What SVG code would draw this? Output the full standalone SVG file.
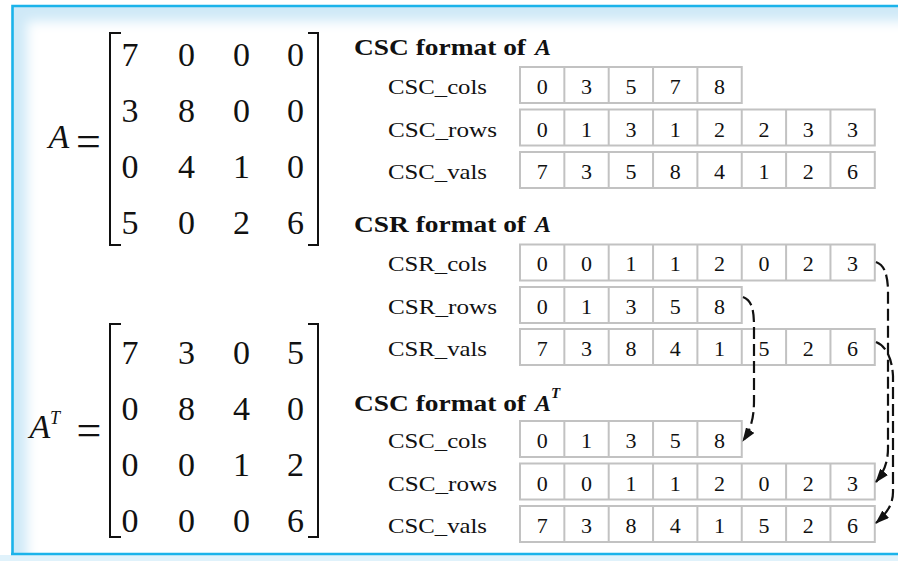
<svg xmlns="http://www.w3.org/2000/svg" width="898" height="561" viewBox="0 0 898 561">
  <defs>
    <style>
      text { font-family: "Liberation Serif", "Times New Roman", serif; fill: #111; }
      .mat { font-size: 34px; text-anchor: middle; }
      .eq { font-size: 44px; text-anchor: middle; }
      .lbl { font-size: 22px; }
      .num { font-size: 22px; text-anchor: middle; }
      .hdr { font-size: 24px; font-weight: bold; }
      .cell { fill: #fff; stroke: #c2c2c2; stroke-width: 2; }
      .div { stroke: #c2c2c2; stroke-width: 2; }
      .brk { fill: none; stroke: #111; stroke-width: 2; }
      .link { fill: none; stroke: #111; stroke-width: 2.2; stroke-dasharray: 12 5; }
    </style>
    <marker id="head" viewBox="0 0 14 10" refX="13" refY="5" markerWidth="14" markerHeight="10" markerUnits="userSpaceOnUse" orient="auto">
      <path d="M0,0 L14,5 L0,10 Z" fill="#111"/>
    </marker>
    <clipPath id="panel"><rect x="13" y="7" width="885" height="546"/></clipPath>
    <filter id="soft" x="-10%" y="-10%" width="120%" height="120%"><feGaussianBlur stdDeviation="6"/></filter>
  </defs>

  <!-- panel with soft inner glow -->
  <rect x="0" y="0" width="898" height="561" fill="#fff"/>
  <rect x="0" y="555" width="898" height="6" fill="#e0f2fb"/>
  <g clip-path="url(#panel)">
    <rect x="13" y="7" width="885" height="546" fill="#cfe9f7"/>
    <rect x="27" y="21" width="900" height="560" fill="#fff" filter="url(#soft)"/>
  </g>
  <path d="M12.5,554 V6 H898 M11,554 H898" fill="none" stroke="#1bb3ea" stroke-width="2.6"/>

  <!-- matrix A -->
  <g id="matrix-A">
    <text class="mat" x="59" y="148" font-style="italic">A</text>
    <text class="eq" x="88.5" y="156">=</text>
    <path class="brk" d="M121,33 H110 V245 H121"/>
    <path class="brk" d="M308,33 H318 V245 H308"/>
    <text class="mat" y="66"><tspan x="130">7</tspan><tspan x="186.5">0</tspan><tspan x="241.5">0</tspan><tspan x="295.5">0</tspan></text>
    <text class="mat" y="122"><tspan x="130">3</tspan><tspan x="186.5">8</tspan><tspan x="241.5">0</tspan><tspan x="295.5">0</tspan></text>
    <text class="mat" y="178"><tspan x="130">0</tspan><tspan x="186.5">4</tspan><tspan x="241.5">1</tspan><tspan x="295.5">0</tspan></text>
    <text class="mat" y="234"><tspan x="130">5</tspan><tspan x="186.5">0</tspan><tspan x="241.5">2</tspan><tspan x="295.5">6</tspan></text>
  </g>

  <!-- matrix A transposed -->
  <g id="matrix-AT">
    <text class="mat" x="40" y="438" font-style="italic">A</text>
    <text x="55" y="424" font-style="italic" style="font-size:18px;text-anchor:middle">T</text>
    <text class="eq" x="89" y="445">=</text>
    <path class="brk" d="M121,324 H110 V537 H121"/>
    <path class="brk" d="M308,324 H318 V537 H308"/>
    <text class="mat" y="364"><tspan x="130">7</tspan><tspan x="186.5">3</tspan><tspan x="241.5">0</tspan><tspan x="295.5">5</tspan></text>
    <text class="mat" y="420"><tspan x="130">0</tspan><tspan x="186.5">8</tspan><tspan x="241.5">4</tspan><tspan x="295.5">0</tspan></text>
    <text class="mat" y="476"><tspan x="130">0</tspan><tspan x="186.5">0</tspan><tspan x="241.5">1</tspan><tspan x="295.5">2</tspan></text>
    <text class="mat" y="532"><tspan x="130">0</tspan><tspan x="186.5">0</tspan><tspan x="241.5">0</tspan><tspan x="295.5">6</tspan></text>
  </g>

  <!-- CSC format of A -->
  <g id="csc-A">
    <text class="hdr" x="354" y="55" textLength="172" lengthAdjust="spacingAndGlyphs">CSC format of</text>
    <text class="hdr" x="535" y="55" font-style="italic">A</text>

    <g id="csc-A-cols">
      <text class="lbl" x="388" y="94" textLength="99" lengthAdjust="spacingAndGlyphs">CSC_cols</text>
      <rect class="cell" x="520" y="67" width="221.75" height="36"/>
      <path class="div" d="M564.35,67 V103 M608.7,67 V103 M653.05,67 V103 M697.4,67 V103"/>
      <text class="num" y="94"><tspan x="542.2">0</tspan><tspan x="586.5">3</tspan><tspan x="630.9">5</tspan><tspan x="675.2">7</tspan><tspan x="719.6">8</tspan></text>
    </g>
    <g id="csc-A-rows">
      <text class="lbl" x="388" y="137" textLength="109" lengthAdjust="spacingAndGlyphs">CSC_rows</text>
      <rect class="cell" x="520" y="109.5" width="354.8" height="36"/>
      <path class="div" d="M564.35,109.5 V145.5 M608.7,109.5 V145.5 M653.05,109.5 V145.5 M697.4,109.5 V145.5 M741.75,109.5 V145.5 M786.1,109.5 V145.5 M830.45,109.5 V145.5"/>
      <text class="num" y="137"><tspan x="542.2">0</tspan><tspan x="586.5">1</tspan><tspan x="630.9">3</tspan><tspan x="675.2">1</tspan><tspan x="719.6">2</tspan><tspan x="763.9">2</tspan><tspan x="808.3">3</tspan><tspan x="852.6">3</tspan></text>
    </g>
    <g id="csc-A-vals">
      <text class="lbl" x="388" y="179" textLength="99" lengthAdjust="spacingAndGlyphs">CSC_vals</text>
      <rect class="cell" x="520" y="152" width="354.8" height="36"/>
      <path class="div" d="M564.35,152 V188 M608.7,152 V188 M653.05,152 V188 M697.4,152 V188 M741.75,152 V188 M786.1,152 V188 M830.45,152 V188"/>
      <text class="num" y="179"><tspan x="542.2">7</tspan><tspan x="586.5">3</tspan><tspan x="630.9">5</tspan><tspan x="675.2">8</tspan><tspan x="719.6">4</tspan><tspan x="763.9">1</tspan><tspan x="808.3">2</tspan><tspan x="852.6">6</tspan></text>
    </g>
  </g>

  <!-- CSR format of A -->
  <g id="csr-A">
    <text class="hdr" x="354" y="232" textLength="172" lengthAdjust="spacingAndGlyphs">CSR format of</text>
    <text class="hdr" x="535" y="232" font-style="italic">A</text>

    <g id="csr-A-cols">
      <text class="lbl" x="388" y="271" textLength="99" lengthAdjust="spacingAndGlyphs">CSR_cols</text>
      <rect class="cell" x="520" y="244.5" width="354.8" height="36"/>
      <path class="div" d="M564.35,244.5 V280.5 M608.7,244.5 V280.5 M653.05,244.5 V280.5 M697.4,244.5 V280.5 M741.75,244.5 V280.5 M786.1,244.5 V280.5 M830.45,244.5 V280.5"/>
      <text class="num" y="271"><tspan x="542.2">0</tspan><tspan x="586.5">0</tspan><tspan x="630.9">1</tspan><tspan x="675.2">1</tspan><tspan x="719.6">2</tspan><tspan x="763.9">0</tspan><tspan x="808.3">2</tspan><tspan x="852.6">3</tspan></text>
    </g>
    <g id="csr-A-rows">
      <text class="lbl" x="388" y="314" textLength="109" lengthAdjust="spacingAndGlyphs">CSR_rows</text>
      <rect class="cell" x="520" y="287" width="221.75" height="36"/>
      <path class="div" d="M564.35,287 V323 M608.7,287 V323 M653.05,287 V323 M697.4,287 V323"/>
      <text class="num" y="314"><tspan x="542.2">0</tspan><tspan x="586.5">1</tspan><tspan x="630.9">3</tspan><tspan x="675.2">5</tspan><tspan x="719.6">8</tspan></text>
    </g>
    <g id="csr-A-vals">
      <text class="lbl" x="388" y="356" textLength="99" lengthAdjust="spacingAndGlyphs">CSR_vals</text>
      <rect class="cell" x="520" y="329" width="354.8" height="36"/>
      <path class="div" d="M564.35,329 V365 M608.7,329 V365 M653.05,329 V365 M697.4,329 V365 M741.75,329 V365 M786.1,329 V365 M830.45,329 V365"/>
      <text class="num" y="356"><tspan x="542.2">7</tspan><tspan x="586.5">3</tspan><tspan x="630.9">8</tspan><tspan x="675.2">4</tspan><tspan x="719.6">1</tspan><tspan x="763.9">5</tspan><tspan x="808.3">2</tspan><tspan x="852.6">6</tspan></text>
    </g>
  </g>

  <!-- CSC format of A^T -->
  <g id="csc-AT">
    <text class="hdr" x="354" y="411" textLength="172" lengthAdjust="spacingAndGlyphs">CSC format of</text>
    <text class="hdr" x="535" y="411" font-style="italic">A</text>
    <text x="551" y="398" font-style="italic" font-weight="bold" style="font-size:15px">T</text>

    <g id="csc-AT-cols">
      <text class="lbl" x="388" y="448" textLength="99" lengthAdjust="spacingAndGlyphs">CSC_cols</text>
      <rect class="cell" x="520" y="421" width="221.75" height="36"/>
      <path class="div" d="M564.35,421 V457 M608.7,421 V457 M653.05,421 V457 M697.4,421 V457"/>
      <text class="num" y="448"><tspan x="542.2">0</tspan><tspan x="586.5">1</tspan><tspan x="630.9">3</tspan><tspan x="675.2">5</tspan><tspan x="719.6">8</tspan></text>
    </g>
    <g id="csc-AT-rows">
      <text class="lbl" x="388" y="491" textLength="109" lengthAdjust="spacingAndGlyphs">CSC_rows</text>
      <rect class="cell" x="520" y="463.5" width="354.8" height="36"/>
      <path class="div" d="M564.35,463.5 V499.5 M608.7,463.5 V499.5 M653.05,463.5 V499.5 M697.4,463.5 V499.5 M741.75,463.5 V499.5 M786.1,463.5 V499.5 M830.45,463.5 V499.5"/>
      <text class="num" y="491"><tspan x="542.2">0</tspan><tspan x="586.5">0</tspan><tspan x="630.9">1</tspan><tspan x="675.2">1</tspan><tspan x="719.6">2</tspan><tspan x="763.9">0</tspan><tspan x="808.3">2</tspan><tspan x="852.6">3</tspan></text>
    </g>
    <g id="csc-AT-vals">
      <text class="lbl" x="388" y="533" textLength="99" lengthAdjust="spacingAndGlyphs">CSC_vals</text>
      <rect class="cell" x="520" y="506" width="354.8" height="36"/>
      <path class="div" d="M564.35,506 V542 M608.7,506 V542 M653.05,506 V542 M697.4,506 V542 M741.75,506 V542 M786.1,506 V542 M830.45,506 V542"/>
      <text class="num" y="533"><tspan x="542.2">7</tspan><tspan x="586.5">3</tspan><tspan x="630.9">8</tspan><tspan x="675.2">4</tspan><tspan x="719.6">1</tspan><tspan x="763.9">5</tspan><tspan x="808.3">2</tspan><tspan x="852.6">6</tspan></text>
    </g>
  </g>

  <!-- dashed links: CSR arrays reused as CSC of the transpose -->
  <g id="links">
    <path class="link" marker-end="url(#head)" d="M743,297 C751,300 754,308 754,326 L754,400 C754,418 751,429 743,441"/>
    <path class="link" marker-end="url(#head)" d="M876,262 C884,265 887,273 888,288 L888,448 C888,462 884,472 876,482"/>
    <path class="link" marker-end="url(#head)" d="M876,342 C886,346 892,358 893,376 L893,492 C893,505 886,514 876,523"/>
  </g>
</svg>
